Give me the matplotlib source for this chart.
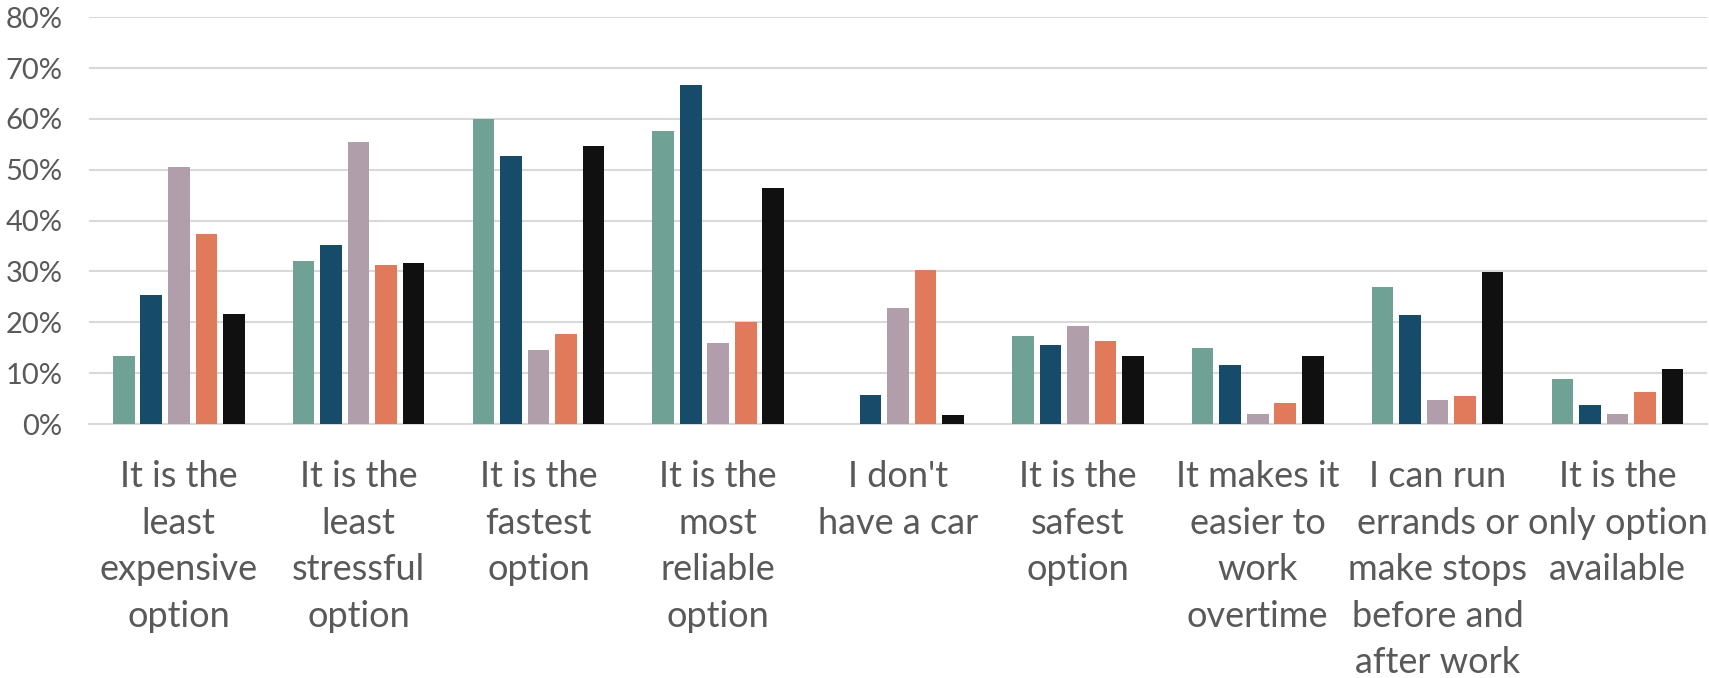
import numpy as np
import matplotlib.pyplot as plt
from matplotlib.ticker import PercentFormatter

categories = [
    "It is the\nleast\nexpensive\noption",
    "It is the\nleast\nstressful\noption",
    "It is the\nfastest\noption",
    "It is the\nmost\nreliable\noption",
    "I don't\nhave a car",
    "It is the\nsafest\noption",
    "It makes it\neasier to\nwork\novertime",
    "I can run\nerrands or\nmake stops\nbefore and\nafter work",
    "It is the\nonly option\navailable",
]

# five respondent groups, share of each answer
series_a = [13.4, 32.1, 60.0, 57.6, 0.0, 17.4, 15.0, 27.0, 8.8]
series_b = [25.4, 35.3, 52.8, 66.6, 5.8, 15.6, 11.7, 21.5, 3.8]
series_c = [50.6, 55.5, 14.6, 16.0, 22.8, 19.2, 2.0, 4.8, 2.0]
series_d = [37.4, 31.3, 17.8, 20.1, 30.3, 16.3, 4.2, 5.6, 6.3]
series_e = [21.7, 31.7, 54.7, 46.4, 1.8, 13.3, 13.3, 29.8, 10.8]

series = [series_a, series_b, series_c, series_d, series_e]
colors = ["#6fa295", "#174b6a", "#b09faa", "#e07a5a", "#101010"]

fig = plt.figure(figsize=(17.09, 6.78), dpi=100)
ax = fig.add_axes([0.052, 0.3746, 0.947, 0.6])

x = np.arange(len(categories))
pitch = 0.153
width = 0.12
for j, vals in enumerate(series):
    ax.bar(x + (j - 2) * pitch, vals, width, color=colors[j], zorder=3)

ax.set_xlim(-0.5, len(categories) - 0.5)
ax.set_ylim(0, 80)
ax.set_yticks(np.arange(0, 81, 10))
ax.yaxis.set_major_formatter(PercentFormatter(decimals=0))
ax.grid(axis="y", color="#d9d9d9", linewidth=1.5, zorder=0)
for s in ["top", "right", "left"]:
    ax.spines[s].set_visible(False)
ax.spines["bottom"].set_color("#d9d9d9")
ax.spines["bottom"].set_linewidth(1.5)

ax.set_xticks(x)
ax.set_xticklabels(categories, fontsize=26, color="#595959",
                   family=["Lato", "DejaVu Sans"], linespacing=1.5)
ax.tick_params(axis="x", length=0, pad=26)
ax.tick_params(axis="y", length=0, pad=19, labelsize=21, labelcolor="#595959")
for t in ax.get_yticklabels():
    t.set_family(["Lato", "DejaVu Sans"])

fig.savefig("out.png", dpi=100)
